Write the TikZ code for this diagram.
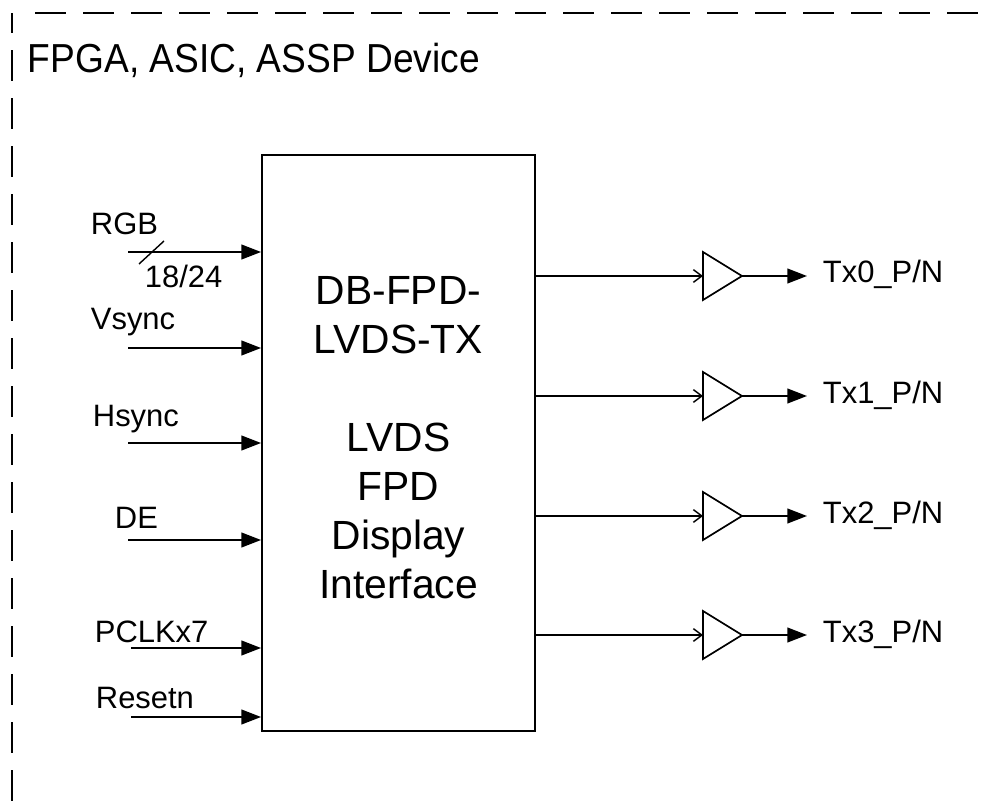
\documentclass[tikz,border=0pt]{standalone}
\usepackage{fontspec}
\usepackage{graphicx}
\setmainfont{Liberation Sans}
\usetikzlibrary{arrows.meta,calc}

\tikzset{
  lbl/.style={inner sep=0pt,anchor=base west,font=\fontsize{22}{26}\selectfont},
  inarrow/.style={-{Triangle[length=14pt,width=10.5pt]}},
  bufin/.style={-{Straight Barb[length=6pt,width=9pt]},line width=1pt}
}

\begin{document}
\begin{tikzpicture}[x=0.025cm,y=-0.025cm,line width=1.3pt]
\useasboundingbox (0,0) rectangle (982,801);
\draw[line width=1.6pt,dash pattern=on 0.78cm off 0.42cm] (12,801) -- (12,13);
\draw[line width=1.6pt,dash pattern=on 0.78cm off 0.42cm] (35,13) -- (982,13);
\node[inner sep=0pt,anchor=base west,font=\fontsize{28.8}{34}\selectfont] (title) at (27,73) {\scalebox{0.917}[1]{FPGA, ASIC, ASSP Device}};

\node[draw,minimum width=6.825cm,minimum height=14.4cm] (lvds) at (398.5,443) {};
\node[align=center,inner sep=0pt,font=\fontsize{29}{34.9}\selectfont] (lvdstxt) at (398.5,437.5) {DB-FPD-\\LVDS-TX\\[34.9pt]LVDS\\FPD\\Display\\Interface};

% inputs
\foreach \nm/\txt/\y/\lx/\ly/\sx in {rgb/RGB/252/90/235/128,vsync/Vsync/348/90/330/128,hsync/Hsync/443/92/427/128,de/DE/540/114/528/128,pclk/PCLKx7/648/94/642/131,rst/Resetn/717/95/708/131} {
  \coordinate (\nm) at (\sx,\y);
  \node[lbl] (\nm lbl) at (\lx,\ly) {\txt};
  \draw[inarrow] (\nm) -- (\nm -| lvds.west);
}
\draw[line width=1pt] ($(rgb)+(11,12)$) -- ++(25,-23);
\node[lbl] (rgbwidth) at (144,288) {18/24};

% outputs
\foreach \i/\y in {0/276,1/396,2/516,3/635} {
  \coordinate (buf\i) at (703,\y);
  \coordinate (tip\i) at (742,\y);
  \coordinate (tx\i) at (807,\y);
  \draw[line width=1.2pt] (buf\i) ++(0,-24) -- (tip\i) -- ++(-39,24) -- cycle;
  \draw[bufin] (lvds.east |- buf\i) -- (buf\i);
  \draw[inarrow] (tip\i) -- (tx\i);
  \node[lbl] (txlbl\i) at (822,\y+7) {Tx\i\_P/N};
}
\end{tikzpicture}
\end{document}
